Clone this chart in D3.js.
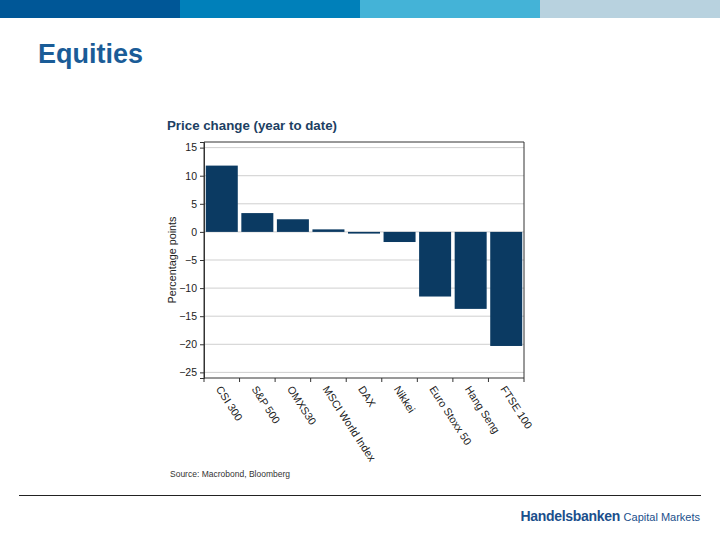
<!DOCTYPE html>
<html>
<head>
<meta charset="utf-8">
<script src="https://cdn.jsdelivr.net/npm/d3@7"></script>
<style>
  body { margin: 0; background: #fff; }
  svg { display: block; font-family: "Liberation Sans", Arial, sans-serif; }
</style>
</head>
<body>
<svg id="vis" width="720" height="540"></svg>
<script>
// data
var indices = ["CSI 300", "S&P 500", "OMXS30", "MSCI World Index", "DAX", "Nikkei", "Euro Stoxx 50", "Hang Seng", "FTSE 100"];
var priceChange = [11.8, 3.35, 2.25, 0.45, -0.3, -1.8, -11.5, -13.7, -20.3];
var yTicks = [15, 10, 5, 0, -5, -10, -15, -20, -25];
var stripeColors = ["#005797", "#0080ba", "#44b3d7", "#b8d2df"];

var svg = d3.select("#vis");

// top stripes
svg.selectAll(".stripe")
   .data(stripeColors)
   .enter()
   .append("rect")
   .attr("class", "stripe")
   .attr("x", function(d, i){ return i * 180; })
   .attr("y", 0)
   .attr("width", 180)
   .attr("height", 18)
   .attr("fill", function(d){ return d; });

svg.append("text")
   .attr("x", 38).attr("y", 63)
   .attr("font-size", 27).attr("font-weight", "bold")
   .attr("fill", "#1a5c97")
   .text("Equities");

// chart
var plotL = 204, plotR = 524, plotT = 142, plotB = 378;

var x = d3.scaleBand().domain(indices).range([plotL, plotR]).paddingInner(0.1).paddingOuter(0.05);
var y = d3.scaleLinear().domain([-26, 16]).range([plotB, plotT]);

svg.append("text")
   .attr("x", 167).attr("y", 130)
   .attr("font-size", 13.3).attr("font-weight", "bold")
   .attr("fill", "#1d3f63")
   .text("Price change (year to date)");

// gridlines
svg.append("g").attr("id", "gridg").selectAll("line")
   .data(yTicks)
   .enter()
   .append("line")
   .attr("x1", plotL).attr("x2", plotR)
   .attr("y1", function(d){ return y(d); })
   .attr("y2", function(d){ return y(d); })
   .attr("stroke", "#cfcfcf").attr("stroke-width", 1);

// bars
svg.append("g").attr("id", "barsg").selectAll("rect")
   .data(priceChange)
   .enter()
   .append("rect")
   .attr("x", function(d, i){ return x(indices[i]); })
   .attr("y", function(d){ return y(Math.max(0, d)); })
   .attr("width", x.bandwidth())
   .attr("height", function(d){ return Math.abs(y(d) - y(0)); })
   .attr("fill", "#0b3a62");

// frame
svg.append("path")
   .attr("d", "M" + plotL + "," + plotB + "V" + plotT + "H" + plotR + "V" + plotB)
   .attr("fill", "none").attr("stroke", "#333").attr("stroke-width", 1);

// y axis
var yAxis = svg.append("g")
   .attr("transform", "translate(" + plotL + ",0)")
   .call(d3.axisLeft(y).tickValues(yTicks).tickSize(4).tickPadding(3));
yAxis.select(".domain").attr("stroke", "#333");
yAxis.selectAll(".tick line").attr("stroke", "#333");
yAxis.selectAll("text").attr("font-size", 10.5).attr("fill", "#222")
   .attr("font-family", "Liberation Sans, Arial, sans-serif");

// x axis: ticks between bands
var step = (plotR - plotL) / indices.length;
var xb = svg.append("g").attr("id", "xaxisg");
xb.append("line")
   .attr("x1", plotL).attr("x2", plotR)
   .attr("y1", plotB).attr("y2", plotB)
   .attr("stroke", "#333");
xb.selectAll(".xt")
   .data(d3.range(indices.length + 1))
   .enter()
   .append("line")
   .attr("class", "xt")
   .attr("x1", function(d){ return plotL + d * step; })
   .attr("x2", function(d){ return plotL + d * step; })
   .attr("y1", plotB).attr("y2", plotB + 4)
   .attr("stroke", "#333");
xb.selectAll(".xl")
   .data(indices)
   .enter()
   .append("text")
   .attr("class", "xl")
   .attr("transform", function(d){
        return "translate(" + (x(d) + x.bandwidth() / 2 - 3) + "," + (plotB + 9) + ") rotate(57)";
   })
   .attr("font-size", 10.8).attr("fill", "#222")
   .attr("dy", "0.35em")
   .text(function(d){ return d; });

svg.append("text")
   .attr("transform", "translate(176," + ((plotT + plotB) / 2) + ") rotate(-90)")
   .attr("text-anchor", "middle")
   .attr("font-size", 10.8).attr("fill", "#222")
   .text("Percentage points");

svg.append("text")
   .attr("x", 170).attr("y", 477)
   .attr("font-size", 8.5).attr("fill", "#333")
   .text("Source: Macrobond, Bloomberg");

// footer
svg.append("line")
   .attr("x1", 19).attr("x2", 701)
   .attr("y1", 495.5).attr("y2", 495.5)
   .attr("stroke", "#222").attr("stroke-width", 1);

var ft = svg.append("text").attr("x", 700).attr("y", 521).attr("text-anchor", "end").attr("fill", "#1b4f8c");
ft.append("tspan").attr("font-size", 14).attr("font-weight", "bold").attr("letter-spacing", -0.3).text("Handelsbanken ");
ft.append("tspan").attr("font-size", 11).text("Capital Markets");
</script>
</body>
</html>
